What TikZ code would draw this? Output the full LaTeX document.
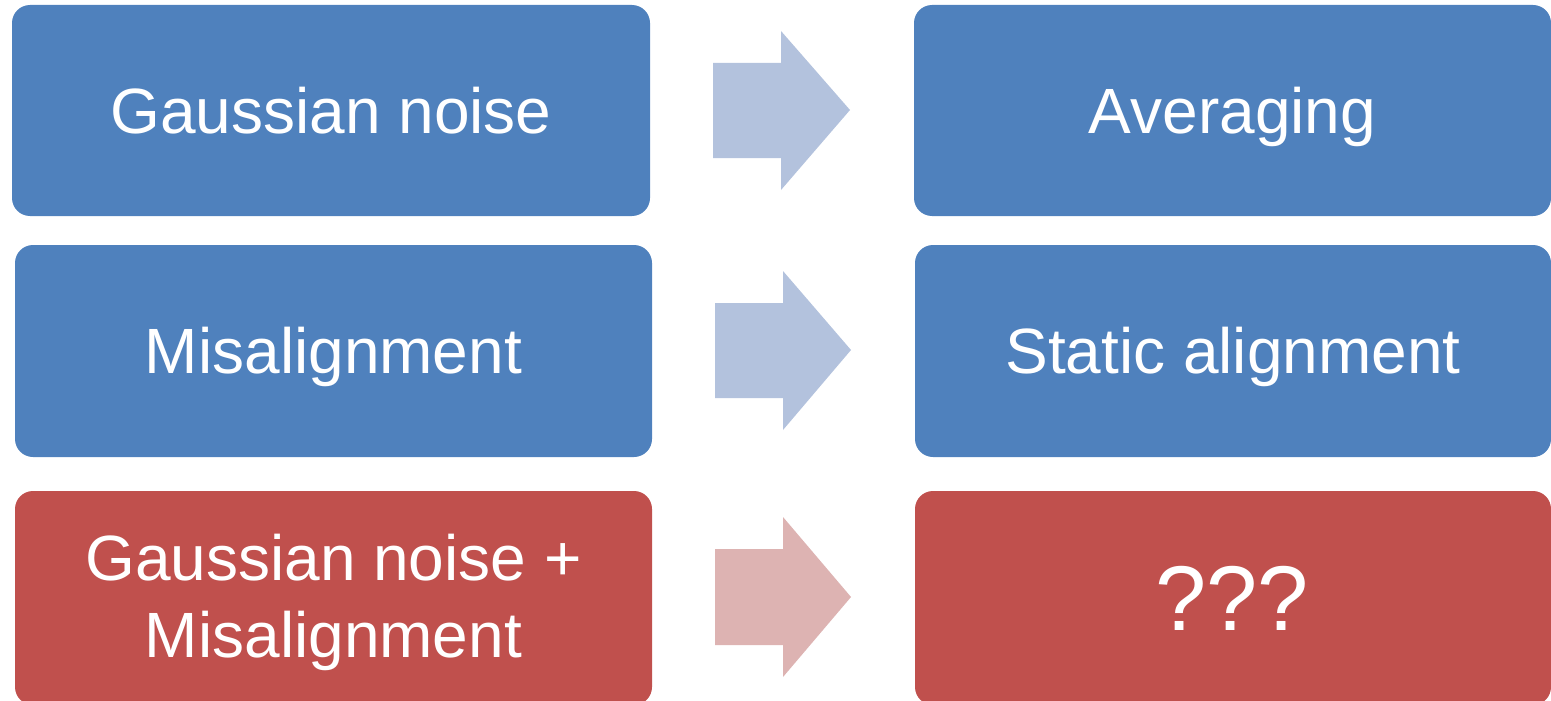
\documentclass[tikz,border=0pt]{standalone}
\usepackage{fontspec}
\setmainfont{Liberation Sans}
\definecolor{boxblue}{HTML}{4F81BD}
\definecolor{boxred}{HTML}{C0504D}
\definecolor{arrblue}{HTML}{B3C2DD}
\definecolor{arrred}{HTML}{DDB3B2}
\begin{document}
\begin{tikzpicture}[x=1pt,y=-1pt,
  box/.style={rectangle, rounded corners=18pt, inner sep=0pt, anchor=center},
  lbl/.style={inner sep=0pt, text=white, anchor=base, font=\fontsize{64}{76}\selectfont},
  biglbl/.style={lbl, font=\fontsize{92}{110}\selectfont},
  ]
\useasboundingbox (0,0) rectangle (1551,701);
\clip (0,0) rectangle (1551,701);
% boxes
\node[box, fill=boxblue, minimum width=638pt, minimum height=211pt] (gn) at (331,110.5) {};
\node[box, fill=boxblue, minimum width=637pt, minimum height=211pt] (av) at (1232.5,110.5) {};
\node[box, fill=boxblue, minimum width=637pt, minimum height=212pt] (mis) at (333.5,351) {};
\node[box, fill=boxblue, minimum width=636pt, minimum height=212pt] (sa) at (1233,351) {};
\node[box, fill=boxred, minimum width=637pt, minimum height=214pt] (gm) at (333.5,598) {};
\node[box, fill=boxred, minimum width=636pt, minimum height=214pt] (qq) at (1233,598) {};
% labels
\node[lbl] (gnt) at (331,133) {Gaussian noise};
\node[lbl] (avt) at (1232.5,133) {Averaging};
\node[lbl] (mist) at (333.5,373) {Misalignment};
\node[lbl] (sat) at (1233,373) {Static alignment};
\node[lbl] (gmta) at (333.5,580) {Gaussian noise +};
\node[lbl] (gmtb) at (333.5,657) {Misalignment};
\node[biglbl] (qqt) at (1232,630) {???};
% arrows
\fill[arrblue] (713,63) -- (781,63) -- (781,31) -- (850,110) -- (781,190) -- (781,158) -- (713,158) -- cycle;
\fill[arrblue] (715,303) -- (783,303) -- (783,271) -- (851,350) -- (783,430) -- (783,398) -- (715,398) -- cycle;
\fill[arrred] (715,549) -- (783,549) -- (783,517) -- (851,597) -- (783,677) -- (783,645) -- (715,645) -- cycle;
\end{tikzpicture}
\end{document}
